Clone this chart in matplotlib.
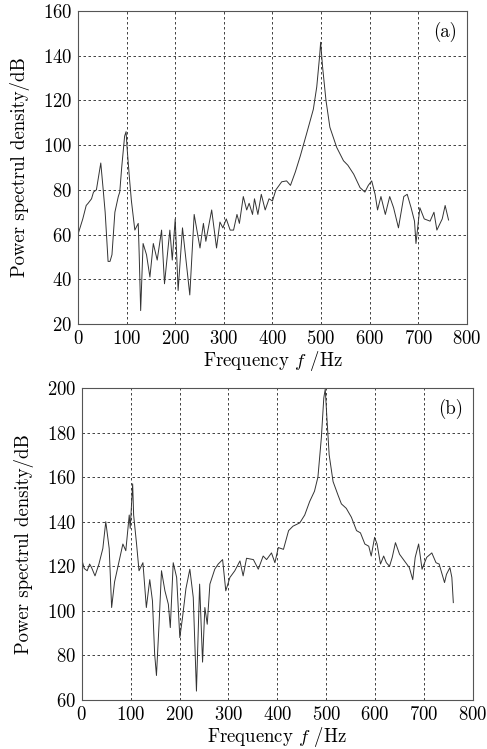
import numpy as np
import matplotlib
matplotlib.use('Agg')
from matplotlib import pyplot as plt

plt.rcParams['font.family'] = ['cmr10', 'DejaVu Serif']
plt.rcParams['mathtext.fontset'] = 'cm'
plt.rcParams['axes.formatter.use_mathtext'] = True

# panel (a)
freq_a = [0, 10, 17, 21, 28, 32, 38, 47, 52, 56, 62, 66, 70, 76, 83, 86, 90, 96, 99, 101,
          106, 110, 117, 124, 126, 129, 134, 141, 148, 155, 163, 172, 178, 189, 194, 200,
          206, 215, 221, 230, 239, 251, 258, 263, 275, 285, 292, 298, 305, 313, 320, 327,
          332, 340, 347, 352, 359, 363, 370, 377, 385, 393, 400, 407, 419, 429, 437, 447,
          457, 470, 484, 491, 497, 499, 503, 510, 518, 532, 546, 555, 567, 580, 590, 597,
          604, 611, 616, 623, 632, 641, 649, 659, 670, 677, 685, 692, 695, 703, 712, 724,
          732, 738, 749, 755, 762]
psd_a = [60, 67, 73, 74, 76, 79, 80, 92, 80, 70, 48, 48, 51, 70, 77, 79, 90, 104, 106, 99,
         85, 75, 62, 65, 51, 26, 56, 51, 41, 56, 48.6, 62, 38, 62, 48.6, 67,
         35, 63, 51, 33, 69, 54, 65, 57, 71, 54, 65.6, 63, 67, 62, 62, 69,
         65, 77, 71, 74, 69, 76, 69, 78, 71, 76, 75, 80, 83.6, 84, 82, 88,
         95, 105, 116, 126, 140, 146, 135, 120, 108, 99, 93, 91, 87, 81, 79, 82,
         84, 78, 71, 77, 69, 77, 72, 63, 77, 78, 72, 66, 56, 72, 67, 66,
         70, 62, 67, 73, 66.5]

# panel (b)
freq_b = [0, 5, 11, 16, 20, 27, 35, 43, 49, 56, 61, 67, 74, 84, 90, 97, 99, 104, 106, 112,
          117, 125, 132, 139, 144.5, 149, 152.7, 158, 163, 170, 177, 181, 187, 194, 200.5,
          206, 213, 221, 228, 234.5, 241, 247, 251.7, 256.6, 262, 272, 279, 288, 294.5, 303,
          313, 323.5, 330, 337, 351, 361, 371, 378, 388, 395, 402, 412.5, 423, 432, 446,
          456, 466, 476, 483, 490, 495, 498, 501, 506, 514, 524, 531, 541, 551.5, 562, 570,
          579, 587, 592, 599, 604, 611, 617.5, 623, 629.5, 635, 641.6, 650, 660, 670, 677,
          682, 689, 696, 705.5, 716, 724.6, 731, 742, 746, 753, 757, 760]
psd_b = [123, 119, 118, 121, 119.4, 115.7, 121, 128, 140, 128, 101.5, 113, 120, 130, 127, 143, 137, 157, 143, 130,
         118, 121.6, 101.5, 114, 104.5, 80.6, 71, 94, 118, 109, 103, 92.5, 121.6, 115, 88,
         97, 110, 118.7, 106, 64, 112, 77, 101.5, 94, 112, 118.7, 121, 123, 109, 115,
         118, 122.4, 115.7, 123.6, 123, 118.7, 124.6, 123, 126, 121.6, 128.4, 127.6, 136, 138, 139.5,
         143, 149, 153.7, 160, 177.6, 195.5, 199.5, 188, 170, 158, 152, 148, 146, 142, 136, 135,
         130, 129, 124.6, 133, 130, 121, 124.6, 121.6, 120, 124, 130.6, 125.4, 122.4, 119.4, 114,
         124, 130, 118.7, 124, 126, 121.6, 121, 112.7, 116.4, 119.4, 115, 103.7]

fig = plt.figure(figsize=(4.87, 7.49), dpi=100)
ax1 = fig.add_axes([0.160, 0.5674, 0.799, 0.418])
ax2 = fig.add_axes([0.168, 0.0654, 0.803, 0.4166])

for ax, f, p, ylim, yt, tag in [(ax1, freq_a, psd_a, (20, 160), np.arange(20, 161, 20), '(a)'),
                                (ax2, freq_b, psd_b, (60, 200), np.arange(60, 201, 20), '(b)')]:
    ax.plot(f, p, color='#333333', lw=0.7)
    ax.set_xlim(0, 800)
    ax.set_ylim(*ylim)
    ax.set_xticks(np.arange(0, 801, 100))
    ax.set_yticks(yt)
    ax.grid(True, color='#222222', ls=(0, (3, 3)), lw=0.6)
    ax.tick_params(length=0, labelsize=13.5, pad=4)
    for s in ax.spines.values():
        s.set_color('#555555')
        s.set_linewidth(0.8)
    ax.set_xlabel(r'Frequency $f$ /Hz', fontsize=13.5, labelpad=1)
    ax.set_ylabel('Power spectrul density/dB', fontsize=13.5, labelpad=9)
    ax.text(0.975, 0.965, tag, transform=ax.transAxes, ha='right', va='top', fontsize=13.5)

fig.savefig('out.png', dpi=100)
